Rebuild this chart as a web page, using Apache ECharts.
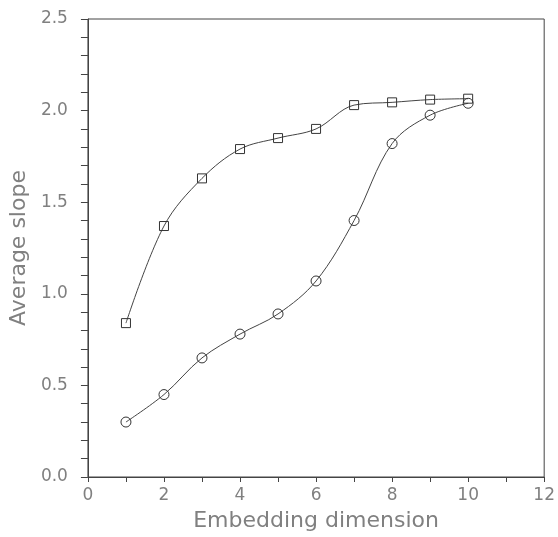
<!DOCTYPE html>
<html>
<head>
<meta charset="utf-8">
<script src="https://cdn.jsdelivr.net/npm/echarts@6/dist/echarts.min.js"></script>
<style>
html,body{margin:0;padding:0;background:#fff;}
#chart{width:558px;height:537px;}
</style>
</head>
<body>
<div id="chart"></div>
<script>
var dimensions = [1, 2, 3, 4, 5, 6, 7, 8, 9, 10];
var squareSeries = [0.84, 1.37, 1.63, 1.79, 1.85, 1.90, 2.03, 2.045, 2.06, 2.065];
var circleSeries = [0.30, 0.45, 0.65, 0.78, 0.89, 1.07, 1.40, 1.82, 1.975, 2.04];
var xTicks = [0, 2, 4, 6, 8, 10, 12];
var yTicks = ['0.0', '0.5', '1.0', '1.5', '2.0', '2.5'];

function pairs(xs, ys) { return xs.map(function (x, i) { return [x, ys[i]]; }); }

var axisColor = '#444';
var textColor = '#808080';
var font = 'DejaVu Sans';

var chart = echarts.init(document.getElementById('chart'));
chart.setOption({
  backgroundColor: '#fff',
  animation: false,
  grid: { left: 83, right: 11, top: 19, bottom: 53, show: true, borderColor: axisColor, borderWidth: 1, backgroundColor: 'transparent' },
  xAxis: {
    type: 'value', min: 0, max: 12, interval: 2,
    name: 'Embedding dimension', nameLocation: 'middle', nameGap: 33,
    nameTextStyle: { color: textColor, fontFamily: font, fontSize: 22 },
    axisLine: { show: true, lineStyle: { color: axisColor, width: 1 } },
    axisTick: { show: true, length: 5, lineStyle: { color: axisColor } },
    minorTick: { show: true, splitNumber: 2, length: 5, lineStyle: { color: axisColor } },
    axisLabel: { color: textColor, fontFamily: font, fontSize: 17, margin: 10, formatter: function (v) { return xTicks.indexOf(v) >= 0 ? String(v) : ''; } },
    splitLine: { show: false }
  },
  yAxis: {
    type: 'value', min: 0, max: 2.5, interval: 0.5,
    name: 'Average slope', nameLocation: 'middle', nameGap: 47,
    nameTextStyle: { color: textColor, fontFamily: font, fontSize: 22 },
    axisLine: { show: true, lineStyle: { color: axisColor, width: 1 } },
    axisTick: { show: true, length: 7, lineStyle: { color: axisColor } },
    minorTick: { show: true, splitNumber: 5, length: 7, lineStyle: { color: axisColor } },
    axisLabel: { color: textColor, fontFamily: font, fontSize: 17, margin: 20, formatter: function (v) { return yTicks[Math.round(v / 0.5)]; } },
    splitLine: { show: false }
  },
  series: [
    {
      type: 'line', data: pairs(dimensions, squareSeries), smooth: 0.35,
      symbol: 'rect', symbolSize: 9,
      lineStyle: { color: '#444', width: 1 },
      itemStyle: { color: 'rgba(0,0,0,0)', borderColor: '#333', borderWidth: 1 }
    },
    {
      type: 'line', data: pairs(dimensions, circleSeries), smooth: 0.35,
      symbol: 'circle', symbolSize: 10,
      lineStyle: { color: '#444', width: 1 },
      itemStyle: { color: 'rgba(0,0,0,0)', borderColor: '#333', borderWidth: 1 }
    }
  ]
});
</script>
</body>
</html>
